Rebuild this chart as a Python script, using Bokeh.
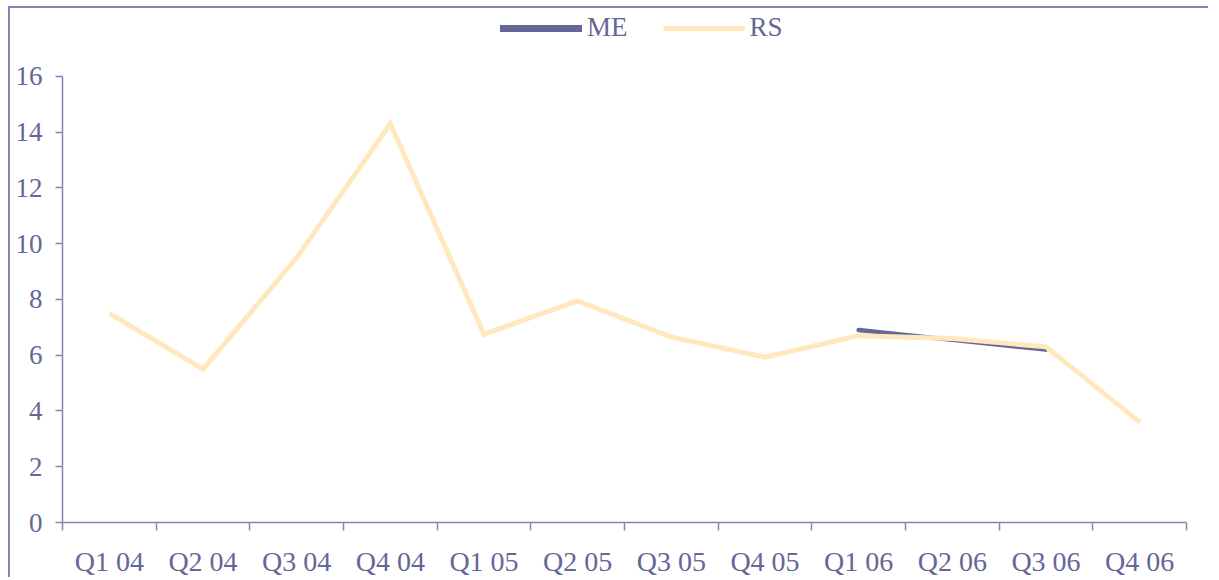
from bokeh.plotting import figure
from bokeh.models import Range1d, FixedTicker, Legend, LegendItem, ColumnDataSource
from bokeh.embed import file_html
from bokeh.resources import INLINE

quarters = ["Q1 04", "Q2 04", "Q3 04", "Q4 04", "Q1 05", "Q2 05",
            "Q3 05", "Q4 05", "Q1 06", "Q2 06", "Q3 06", "Q4 06"]
rs_values = [7.5, 5.5, 9.5, 14.3, 6.75, 7.95, 6.65, 5.93, 6.7, 6.6, 6.3, 3.6]
me_quarters = ["Q1 06", "Q2 06", "Q3 06"]
me_values = [6.9, 6.55, 6.2]
y_ticks = [0, 2, 4, 6, 8, 10, 12, 14, 16]

TEXT = "#666699"
AXIS = "#8585b5"
RS_COLOR = "#FFE8BE"
FONT = "Liberation Serif"

pos = {q: i + 0.5 for i, q in enumerate(quarters)}

# frame spans the legend strip too; axis drawn only over 0..16
Y_MAX = 16
y_top = Y_MAX * (523 - 8) / (523 - 76)

p = figure(width=1200, height=571, output_backend="svg", toolbar_location=None,
           x_range=Range1d(0, len(quarters)), y_range=Range1d(0, y_top),
           min_border_left=52, min_border_right=24, min_border_top=0,
           min_border_bottom=40, background_fill_color="white",
           border_fill_color="white", outline_line_color=None)
p.styles = {"margin-left": "8px", "margin-top": "6px",
            "border-left": f"2px solid {AXIS}", "border-top": f"2px solid {AXIS}"}
p.grid.visible = False

me_src = ColumnDataSource(dict(x=[pos[q] for q in me_quarters], y=me_values))
rs_src = ColumnDataSource(dict(x=[pos[q] for q in quarters], y=rs_values))

p.line("x", "y", source=me_src, line_color="#666699", line_width=4.5,
       line_cap="round", line_join="round")
p.line("x", "y", source=rs_src, line_color=RS_COLOR, line_width=5,
       line_cap="butt", line_join="miter")

# legend proxies (a single NaN point: nothing drawn in the plot area)
nan = float("nan")
me_leg = p.line(x=[nan], y=[nan], line_color="#666699", line_width=7, line_cap="round")
rs_leg = p.line(x=[nan], y=[nan], line_color=RS_COLOR, line_width=5)

legend = Legend(items=[LegendItem(label="ME", renderers=[me_leg]),
                       LegendItem(label="RS", renderers=[rs_leg])],
                orientation="horizontal", location=(438, 479),
                glyph_width=82, glyph_height=20, label_height=20,
                label_standoff=5, spacing=35, padding=0, margin=0,
                border_line_color=None, background_fill_alpha=0,
                label_text_font=FONT, label_text_font_size="27px",
                label_text_color=TEXT)
p.add_layout(legend, "center")

# x axis: labels at centers, ticks at boundaries
xa = p.xaxis[0]
xa.ticker = FixedTicker(ticks=[pos[q] for q in quarters],
                        minor_ticks=list(range(len(quarters) + 1)))
xa.major_label_overrides = {pos[q]: q for q in quarters}
xa.major_tick_line_color = None
xa.major_tick_out = 0
xa.major_tick_in = 0
xa.minor_tick_line_color = AXIS
xa.minor_tick_out = 8
xa.minor_tick_in = 0
xa.axis_line_color = AXIS
xa.axis_line_width = 1.5
xa.minor_tick_line_width = 1.5
xa.major_label_standoff = 15
xa.major_label_text_font = FONT
xa.major_label_text_font_size = "28px"
xa.major_label_text_color = TEXT

ya = p.yaxis[0]
ya.ticker = FixedTicker(ticks=y_ticks, minor_ticks=[])
ya.bounds = (0, Y_MAX)
ya.major_tick_line_color = AXIS
ya.major_tick_out = 7
ya.major_tick_in = 0
ya.major_tick_line_width = 1.5
ya.axis_line_color = AXIS
ya.axis_line_width = 1.5
ya.major_label_standoff = 13
ya.major_label_text_font = FONT
ya.major_label_text_font_size = "27px"
ya.major_label_text_color = TEXT

open("out.html", "w").write(file_html(p, INLINE))
